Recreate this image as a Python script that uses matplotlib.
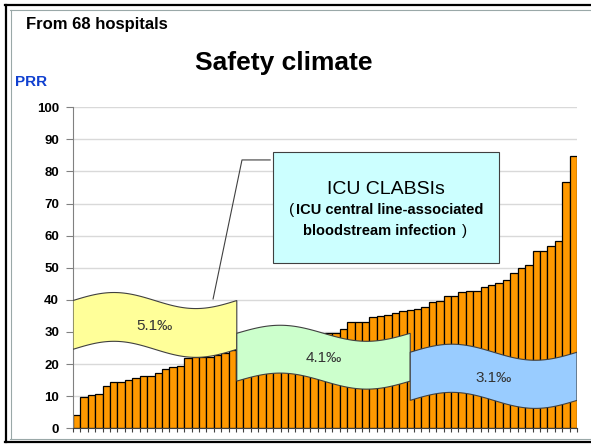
import numpy as np
import matplotlib
matplotlib.use('Agg')
import matplotlib.pyplot as plt
from matplotlib.patches import Polygon, Rectangle
from matplotlib.lines import Line2D

plt.rcParams['font.family'] = ['Liberation Sans', 'DejaVu Sans']

# PRR per hospital, sorted ascending (68 hospitals)
prr = [4.2, 9.7, 10.3, 10.8, 13.3, 14.4, 14.4, 15.0, 15.7, 16.3, 16.3, 17.2,
       18.4, 19.1, 19.4, 21.8, 22.2, 22.2, 22.2, 22.7, 23.6, 24.5,
       25.0, 25.3, 26.0, 26.3, 27.0, 27.2, 27.8, 28.1, 28.4, 28.8, 29.2, 29.5, 29.7,
       29.8, 31.0, 33.0, 33.2, 33.2, 34.8, 35.1, 35.4, 36.0, 36.4, 36.7, 37.1,
       37.8, 39.2, 39.7, 41.1, 41.1, 42.4, 42.9, 42.9, 44.1, 44.7, 45.3, 46.1,
       48.4, 49.9, 50.8, 55.3, 55.3, 56.7, 58.2, 76.8, 84.9]

# CLABSI rate per group (banners)
groups = ['5.1‰', '4.1‰', '3.1‰']
group_colors = ['#FFFF99', '#CCFFCC', '#99CCFF']

W, H = 591, 444
fig = plt.figure(figsize=(W / 100, H / 100), dpi=100)

def fx(px):
    return px / W

def fy(py):
    return 1 - py / H

ax = fig.add_axes([fx(73), fy(428.3), (577 - 73) / W, 321 / H])
x = np.arange(len(prr))
ax.bar(x, prr, width=1.0, color='#FF9900', edgecolor='black', linewidth=0.9, zorder=2)
ax.set_xlim(-0.5, len(prr) - 0.5)
ax.set_ylim(0, 100)
ax.set_yticks(range(0, 101, 10))
ax.yaxis.grid(True, color='#D9D9D9', linewidth=1.0, zorder=0)
ax.set_axisbelow(True)
ax.set_xticks(np.arange(-0.5, len(prr), 1.0))
ax.set_xticklabels([])
ax.tick_params(axis='x', length=3, width=0.8, color='#404040')
ax.tick_params(axis='y', length=5, width=0.8, color='#808080', pad=5, labelsize=9.5)
for lab in ax.get_yticklabels():
    lab.set_fontweight('bold')
for s in ['top', 'right']:
    ax.spines[s].set_visible(False)
ax.spines['left'].set_color('#808080')
ax.spines['bottom'].set_color('#404040')

# wavy banners
bands = [(-0.5, 21.6, 39.8, 24.6), (21.6, 45.0, 29.6, 14.7), (45.0, 67.5, 23.7, 8.7)]
amp = 2.5
for (x0, x1, top, bot), lab, col in zip(bands, groups, group_colors):
    t = np.linspace(x0, x1, 80)
    w = amp * np.sin(2 * np.pi * (t - x0) / (x1 - x0))
    pts = np.vstack([np.column_stack([t, top + w]), np.column_stack([t[::-1], bot + w[::-1]])])
    ax.add_patch(Polygon(pts, closed=True, facecolor=col, edgecolor='#404040', linewidth=0.8, zorder=3))
    ax.text((x0 + x1) / 2, (top + bot) / 2 - 0.4, lab, ha='center', va='center', fontsize=11,
            color='#333333', zorder=4)

# callout
ax.add_line(Line2D([26.1, 22.3, 18.4], [83.6, 83.6, 40.3], color='#404040', linewidth=0.8, zorder=4))
ax.add_patch(Rectangle((26.5, 51.5), 30.5, 34.6, facecolor='#CCFFFF', edgecolor='#404040',
                       linewidth=0.8, zorder=4))

fig.text(fx(386), fy(189), 'ICU CLABSIs', ha='center', va='center', fontsize=14)
fig.text(fx(289), fy(210), '(', ha='left', va='center', fontsize=11)
fig.text(fx(296), fy(210), 'ICU central line-associated', ha='left', va='center',
         fontsize=10.5, fontweight='bold')
fig.text(fx(303), fy(231), 'bloodstream infection', ha='left', va='center',
         fontsize=10.5, fontweight='bold')
fig.text(fx(462), fy(231), ')', ha='left', va='center', fontsize=11)

fig.text(fx(284), fy(63), 'Safety climate', ha='center', va='center', fontsize=19, fontweight='bold')
fig.text(fx(26), fy(24), 'From 68 hospitals', ha='left', va='center', fontsize=12, fontweight='bold')
fig.text(fx(15), fy(82), 'PRR', ha='left', va='center', fontsize=11, fontweight='bold', color='#1040D0')

# slide frame
for xs, ys, c, lw in [([5, 591], [5.5, 5.5], 'black', 1.6), ([5.5, 5.5], [5, 442], 'black', 1.6),
                      ([5, 591], [442, 442], 'black', 1.6),
                      ([10, 591], [10.5, 10.5], '#9AA8A8', 0.8), ([10.5, 10.5], [10, 438.5], '#9AA8A8', 0.8),
                      ([10, 591], [438.5, 438.5], '#9AA8A8', 0.8)]:
    fig.add_artist(Line2D([fx(v) for v in xs], [fy(v) for v in ys], color=c, linewidth=lw))

fig.savefig('out.png', dpi=100)
